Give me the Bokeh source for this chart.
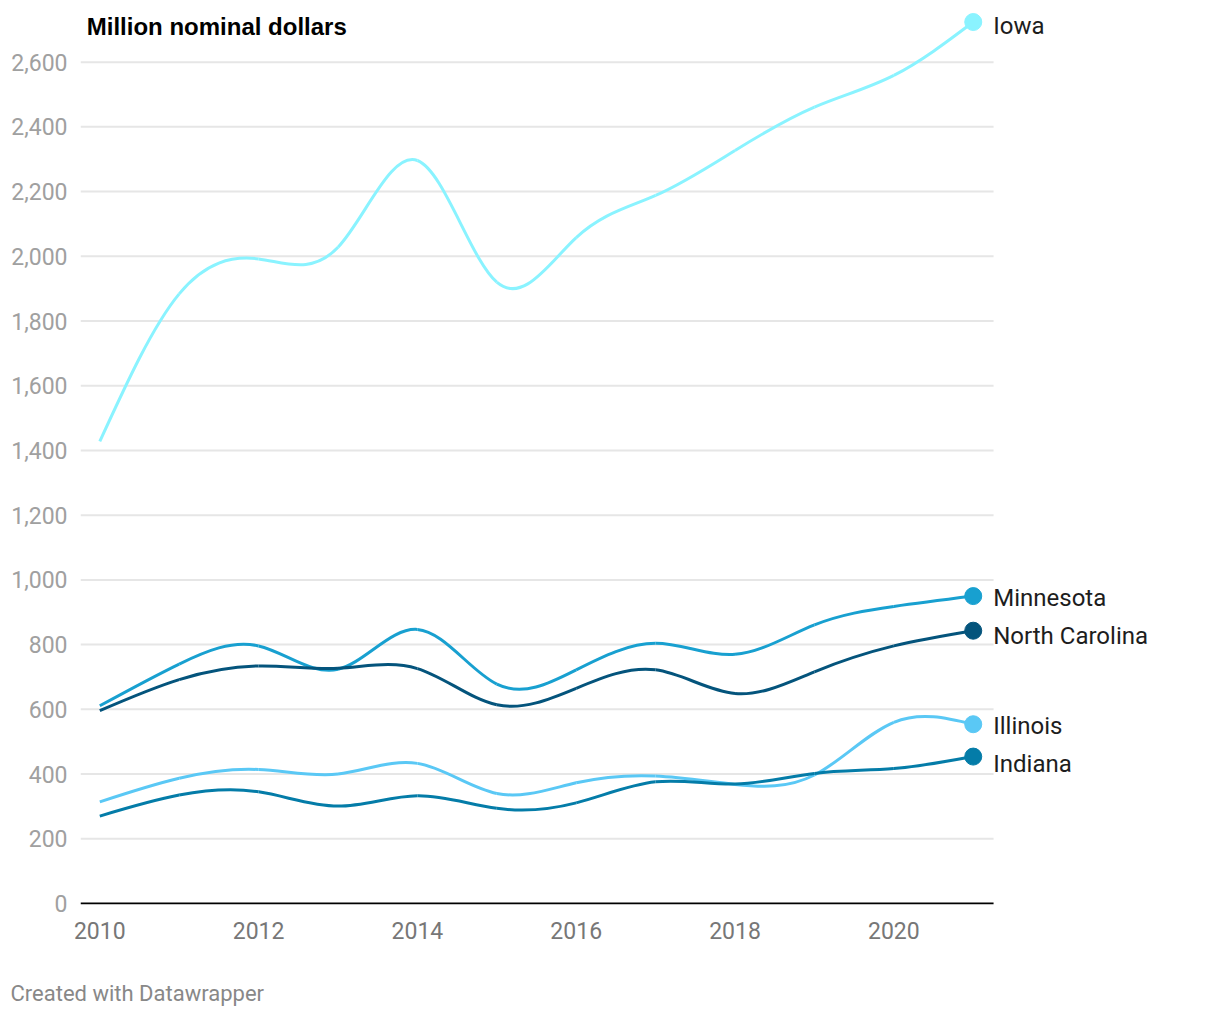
from bokeh.plotting import figure
from bokeh.models import Range1d, FixedTicker, NumeralTickFormatter, Label, ColumnDataSource, Title
from bokeh.embed import file_html
from bokeh.resources import INLINE

years = [2010, 2011, 2012, 2013, 2014, 2015, 2016, 2017, 2018, 2019, 2020, 2021]
iowa = [1428, 1884, 1992, 2028, 2296, 1920, 2058, 2188, 2327, 2461, 2559, 2724]
minnesota = [611, 740, 796, 724, 847, 678, 722, 804, 770, 861, 918, 950]
north_carolina = [596, 692, 734, 727, 726, 614, 665, 722, 649, 716, 796, 843]
illinois = [314, 387, 414, 400, 433, 340, 373, 394, 368, 397, 560, 554]
indiana = [270, 335, 345, 301, 333, 294, 311, 376, 369, 402, 417, 454]

series_names = ["Iowa", "Minnesota", "North Carolina", "Illinois", "Indiana"]
series_values = [iowa, minnesota, north_carolina, illinois, indiana]
series_colors = ["#8af3ff", "#18a0d0", "#04547c", "#5ac8f5", "#047ca8"]
label_nudge = [-4, -2, -5, -2, -7]

x_ticks = [2010, 2012, 2014, 2016, 2018, 2020]
y_ticks = [0, 200, 400, 600, 800, 1000, 1200, 1400, 1600, 1800, 2000, 2200, 2400, 2600]

X_START = 2009.757
X_GRID_END = 2021.256


def natural_controls(v):
    # d3.curveNatural control points
    n = len(v) - 1
    a = [0.0] * n
    b = [0.0] * n
    r = [0.0] * n
    a[0], b[0], r[0] = 0.0, 2.0, v[0] + 2 * v[1]
    for i in range(1, n - 1):
        a[i], b[i], r[i] = 1.0, 4.0, 4 * v[i] + 2 * v[i + 1]
    a[n - 1], b[n - 1], r[n - 1] = 2.0, 7.0, 8 * v[n - 1] + v[n]
    for i in range(1, n):
        m = a[i] / b[i - 1]
        b[i] -= m
        r[i] -= m * r[i - 1]
    a[n - 1] = r[n - 1] / b[n - 1]
    for i in range(n - 2, -1, -1):
        a[i] = (r[i] - a[i + 1]) / b[i]
    b[n - 1] = (v[n] + a[n - 1]) / 2
    for i in range(0, n - 1):
        b[i] = 2 * v[i + 1] - a[i + 1]
    return a, b


p = figure(width=1220, height=1020, output_backend="svg", toolbar_location=None,
           x_range=Range1d(X_START, 2024.114), y_range=Range1d(-3.1, 2790.5),
           min_border_left=80, min_border_right=0, min_border_top=0, min_border_bottom=116)
p.outline_line_color = None
p.background_fill_color = "white"
p.border_fill_color = "white"
p.xgrid.grid_line_color = None
p.ygrid.grid_line_color = None

p.xaxis.ticker = FixedTicker(ticks=x_ticks)
p.yaxis.ticker = FixedTicker(ticks=y_ticks)
p.yaxis.formatter = NumeralTickFormatter(format="0,0")
for ax in (p.xaxis[0], p.yaxis[0]):
    ax.major_tick_line_color = None
    ax.minor_tick_line_color = None
    ax.axis_line_color = None
    ax.major_label_text_font = "Roboto"
    ax.major_label_text_font_size = "23px"
p.yaxis.major_label_text_color = "#a0a0a0"
p.yaxis.major_label_standoff = 7
p.xaxis.major_label_text_color = "#777777"
p.xaxis.major_label_standoff = 11

# gridlines (stop at the plot's right edge, labels sit beyond)
grid_vals = y_ticks[1:]
p.segment(x0=[X_START] * len(grid_vals), y0=grid_vals,
          x1=[X_GRID_END] * len(grid_vals), y1=grid_vals,
          line_color="#e6e6e6", line_width=2)
p.segment(x0=[X_START], y0=[0], x1=[X_GRID_END], y1=[0], line_color="#000000", line_width=2)

for name, vals, col, nudge in zip(series_names, series_values, series_colors, label_nudge):
    xa, xb = natural_controls([float(x) for x in years])
    ya, yb = natural_controls([float(y) for y in vals])
    src = ColumnDataSource(dict(
        x0=years[:-1], y0=vals[:-1], x1=years[1:], y1=vals[1:],
        cx0=xa, cy0=ya, cx1=xb, cy1=yb))
    p.bezier(x0="x0", y0="y0", x1="x1", y1="y1", cx0="cx0", cy0="cy0",
             cx1="cx1", cy1="cy1", source=src, line_color=col, line_width=3)
    p.scatter(x=[years[-1]], y=[vals[-1]], size=17, fill_color=col, line_color=col)
    p.add_layout(Label(x=years[-1], y=vals[-1], x_offset=20, y_offset=nudge, text=name,
                       text_font="Roboto", text_font_size="24px", text_color="#1d1d1d",
                       text_baseline="middle", text_align="left"))

p.add_layout(Label(x=2010, y=2710, x_offset=-13, text="Million nominal dollars",
                   text_font="Liberation Sans", text_font_style="bold", text_font_size="24px",
                   text_color="#000000", text_baseline="middle", text_align="left"))

p.add_layout(Title(text="\nCreated with Datawrapper", align="left", offset=-70, standoff=25,
                   text_font="Roboto", text_font_size="22px", text_color="#888888",
                   text_font_style="normal"), "below")

open("out.html", "w").write(file_html(p, INLINE))
